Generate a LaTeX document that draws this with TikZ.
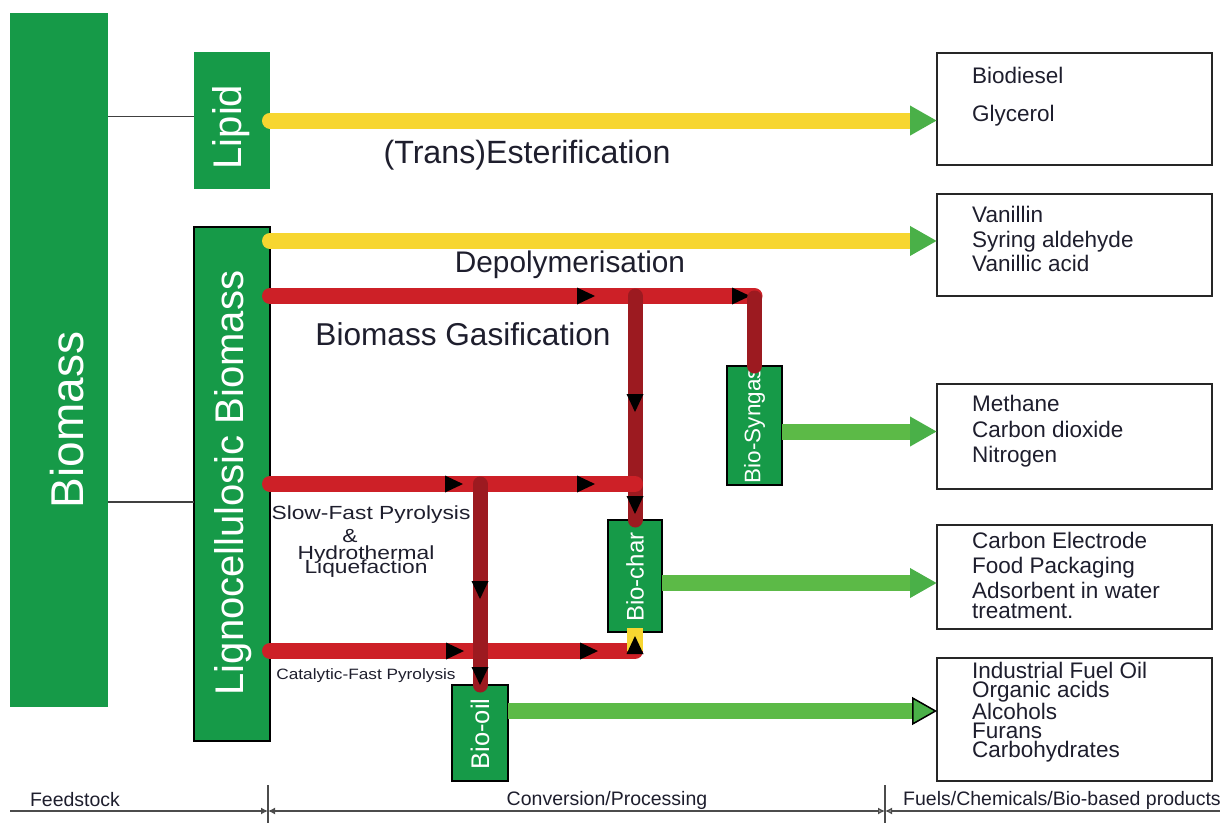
\documentclass[tikz,border=0pt]{standalone}
\usepackage{fontspec}
\setmainfont{Liberation Sans}
\usetikzlibrary{arrows.meta,calc,decorations.markings}

\definecolor{boxgreen}{RGB}{22,154,72}
\definecolor{flowyellow}{RGB}{247,214,48}
\definecolor{flowred}{RGB}{205,32,39}
\definecolor{flowdark}{RGB}{156,26,32}
\definecolor{flowgreen}{RGB}{92,186,71}
\definecolor{tipgreen}{RGB}{74,176,72}
\definecolor{inktext}{RGB}{30,30,45}

\newcommand{\fsz}[1]{\fontsize{#1}{#1}\selectfont}

\begin{document}
\begin{tikzpicture}[x=1pt,y=-1pt,
  feedbox/.style={rectangle, fill=boxgreen, inner sep=0pt, outer sep=0pt},
  prodbox/.style={feedbox, draw=black, line width=1.5pt},
  outbox/.style={rectangle, draw=black!85, line width=2pt, fill=white,
    minimum width=275pt, inner sep=0pt, outer sep=0pt},
  boxtext/.style={text=white, inner sep=0pt, rotate=90},
  outtext/.style={text=inktext, inner sep=0pt, align=left, anchor=north west},
  proclabel/.style={text=inktext, inner sep=0pt},
  feedline/.style={draw=black!75, line width=1.5pt},
  yellowflow/.style={draw=flowyellow, line width=16pt, line cap=round},
  redflow/.style={draw=flowred, line width=16pt, line cap=round},
  darkflow/.style={draw=flowdark, line width=15pt, line cap=round},
  greenflow/.style={draw=flowgreen, line width=16pt},
  flowmark/.style={postaction={decorate, decoration={markings,
    mark=at position #1 with {\fill[black] (-9,-8.5) -- (9,0) -- (-9,8.5) -- cycle;}}}},
  greentip/.style={-{Triangle[length=27pt, width=28pt, color=tipgreen]}},
  axisline/.style={draw=black!70, line width=1.6pt},
]
\useasboundingbox (0,0) rectangle (1224,823);

% feedstock blocks
\node[feedbox, minimum width=98pt, minimum height=694pt] (biomass) at (59,360) {};
\node[feedbox, minimum width=76pt, minimum height=137pt] (lipid) at (232,120.5) {};
\node[prodbox, minimum width=76pt, minimum height=514pt] (ligno) at (232,484) {};

\node[boxtext, font=\fsz{46}] (biomasstxt) at (67,420) {Biomass};
\node[boxtext, font=\fsz{40}] (lipidtxt) at (231,127) {Lipid};
\node[boxtext, font=\fsz{40}] (lignotxt) at (233,483) {Lignocellulosic Biomass};

\coordinate (c1) at ($(lipid.west)+(0,-4)$);
\coordinate (c2) at ($(ligno.west)+(0,18)$);
\draw[feedline] (c1 -| biomass.east) -- (c1);
\draw[feedline] (c2 -| biomass.east) -- (c2);

% intermediate products
\node[prodbox, minimum width=55pt, minimum height=119pt] (syngas) at (754.5,425.5) {};
\node[prodbox, minimum width=54pt, minimum height=112pt] (biochar) at (635,576) {};
\node[prodbox, minimum width=56pt, minimum height=96pt] (biooil) at (480,733) {};

\node[boxtext, font=\fsz{22.5}] (syngastxt) at (syngas.center) {Bio-Syngas};
\node[boxtext, font=\fsz{24}] (biochartxt) at ($(biochar.center)+(0,1)$) {Bio-char};
\node[boxtext, font=\fsz{25.5}] (biooiltxt) at ($(biooil.center)+(0,1)$) {Bio-oil};

% final products
\node[outbox, minimum height=112pt] (out1) at (1074.5,109) {};
\node[outbox, minimum height=102pt] (out2) at (1074.5,245) {};
\node[outbox, minimum height=105pt] (out3) at (1074.5,436.5) {};
\node[outbox, minimum height=104pt] (out4) at (1074.5,577) {};
\node[outbox, minimum height=123pt] (out5) at (1074.5,719.5) {};

\node[outtext, font=\fontsize{22.5}{25}\selectfont] (t1) at ($(out1.north west)+(35,14)$)
  {Biodiesel\\[13pt]Glycerol};
\node[outtext, font=\fontsize{22.5}{24.5}\selectfont] (t2) at ($(out2.north west)+(35,12)$)
  {Vanillin\\Syring aldehyde\\Vanillic acid};
\node[outtext, font=\fontsize{22.5}{25.5}\selectfont] (t3) at ($(out3.north west)+(35,11)$)
  {Methane\\Carbon dioxide\\Nitrogen};
\node[outtext, font=\fontsize{22.5}{25}\selectfont] (t4) at ($(out4.north west)+(35,7)$)
  {Carbon Electrode\\Food Packaging\\Adsorbent in water\\[-5pt]treatment.};
\node[outtext, font=\fontsize{22.5}{19}\selectfont] (t5) at ($(out5.north west)+(35,4)$)
  {Industrial Fuel Oil\\Organic acids\\Alcohols\\Furans\\Carbohydrates};

% process labels
\node[proclabel, font=\fsz{32.2}] (ester) at (527,155) {(Trans)Esterification};
\node[proclabel, font=\fsz{29.8}] (depoly) at (570,265) {Depolymerisation};
\node[proclabel, font=\fsz{31.6}] (gasif) at (463,334) {Biomass Gasification};
\node[proclabel, font=\fsz{19}] (pyro1) at (371,515) {\scalebox{1.2}[1]{Slow-Fast Pyrolysis}};
\node[proclabel, font=\fsz{19}] (pyro2) at (350,536) {\scalebox{1.2}[1]{\&}};
\node[proclabel, font=\fsz{19}] (pyro3) at (366,555) {\scalebox{1.2}[1]{Hydrothermal}};
\node[proclabel, font=\fsz{19}] (pyro4) at (366,569) {\scalebox{1.2}[1]{Liquefaction}};
\node[proclabel, font=\fsz{15}] (catpyro) at (366,676) {\scalebox{1.15}[1]{Catalytic-Fast Pyrolysis}};

% yellow routes
\coordinate (y2) at ($(ligno.north east)+(0,14)$);
\draw[yellowflow, greentip] (lipid.east) -- (lipid.east -| out1.west);
\draw[yellowflow, greentip] (y2) -- (y2 -| out2.west);

% red and dark red routes
\coordinate (r1) at ($(ligno.north east)+(0,69)$);
\coordinate (r3) at ($(ligno.north east)+(0,424)$);
\draw[redflow, flowmark=316pt, flowmark=471pt] (r1) -- (syngas.north |- r1);
\draw[darkflow, flowmark=107pt, flowmark=209pt] (biochar.north |- r1) -- (biochar.north);
\draw[darkflow] ($(syngas.north |- r1)+(0,2)$) -- (syngas.north);
\draw[redflow, flowmark=184pt, flowmark=316pt] (ligno.east) -- (biochar.north |- ligno.east);
\draw[redflow, flowmark=185pt, flowmark=319pt] (r3) -- (biochar.south |- r3);
\draw[yellowflow, line cap=butt, flowmark=6pt] (biochar.south |- r3) -- ($(biochar.south)+(0,-4)$);
\draw[darkflow, flowmark=106pt, flowmark=192pt] (biooil.north |- ligno.east) -- (biooil.north);

% green routes to the products
\coordinate (g1) at ($(syngas.east)+(0,6)$);
\coordinate (g2) at ($(biochar.east)+(0,7)$);
\coordinate (g3) at ($(biooil.east)+(0,-22)$);
\draw[greenflow, greentip] (g1) -- (g1 -| out3.west);
\draw[greenflow, greentip] (g2) -- (g2 -| out4.west);
\draw[greenflow, -{Triangle[length=25pt, width=28pt, color=black, fill=tipgreen, line width=1.5pt]}]
  (g3) -- (g3 -| out5.west);

% stage axis
\coordinate (axl) at (10,811);
\coordinate (ax1) at (268,811);
\coordinate (ax2) at (885,811);
\coordinate (axr) at (1220,811);
\draw[axisline, -{Latex[length=7pt, width=7pt]}] (axl) -- (ax1);
\draw[axisline, {Latex[length=7pt, width=7pt]}-{Latex[length=7pt, width=7pt, open]}] (ax1) -- (ax2);
\draw[axisline, {Latex[length=7pt, width=7pt, open]}-] (ax2) -- (axr);
\draw[axisline, line width=1.2pt] ($(ax1)+(0,-26)$) -- ($(ax1)+(0,12)$);
\draw[axisline, line width=1.2pt] ($(ax2)+(0,-26)$) -- ($(ax2)+(0,12)$);

\node[proclabel, font=\fsz{19.5}] (feedlbl) at (75,800) {Feedstock};
\node[proclabel, font=\fsz{19.5}] (convlbl) at (607,800) {Conversion/Processing};
\node[proclabel, font=\fsz{19.5}] (prodlbl) at (1062,800) {Fuels/Chemicals/Bio-based products};
\end{tikzpicture}
\end{document}
